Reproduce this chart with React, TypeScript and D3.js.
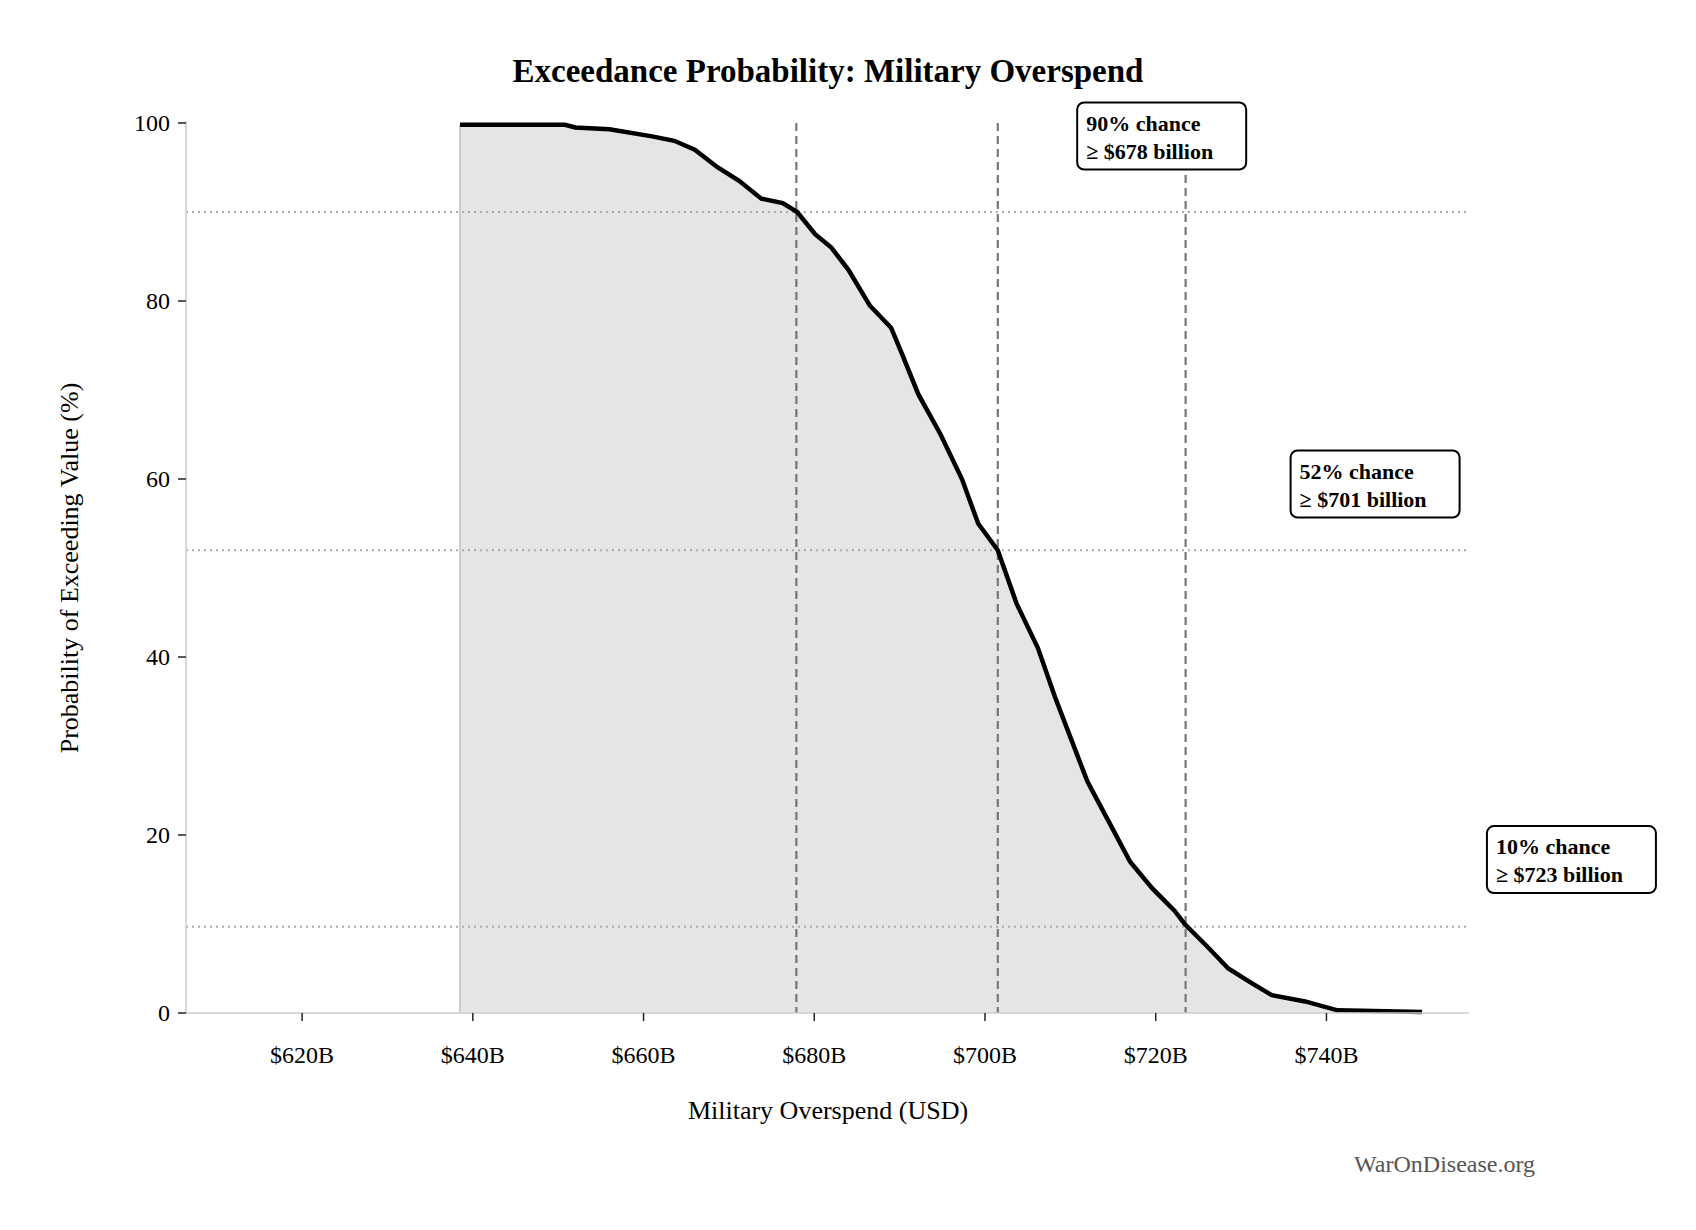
import React from "react";
import * as d3 from "d3";

const curveX = [638.5, 650.8, 652, 656, 661, 663.6, 666, 668.7, 671.2, 673.8, 676.3, 678, 680.1, 682, 684, 686.5, 689, 690.3, 692.2, 694.8, 697.3, 699.2, 701.5, 703.7, 706.2, 708.2, 710, 712, 714.5, 717, 719.6, 722.2, 723.4, 726, 728.5, 731, 733.6, 737.5, 741.3, 751.2];
const curveP = [99.8, 99.8, 99.5, 99.3, 98.5, 98, 97, 95, 93.5, 91.5, 91, 90, 87.5, 86, 83.5, 79.5, 77, 74, 69.5, 65, 60, 55, 52, 46, 41, 35.5, 31, 26, 21.5, 17, 14, 11.5, 10, 7.5, 5, 3.5, 2, 1.3, 0.3, 0.1];
const xTicks = [620, 640, 660, 680, 700, 720, 740];
const yTicks = [0, 20, 40, 60, 80, 100];
const markerX = [677.9, 701.5, 723.5];
const markerP = [90, 52, 9.7];
const annLines = [["90% chance", "≥ $678 billion"], ["52% chance", "≥ $701 billion"], ["10% chance", "≥ $723 billion"]];
const annX = [710.8, 735.8, 758.8];
const annY = [102.3, 63.2, 21.0];

const W = 1696, H = 1230;
const font = "'Liberation Serif', 'DejaVu Serif', serif";

export default function App() {
  const x = d3.scaleLinear().domain([606.4, 756.7]).range([186, 1469]);
  const y = d3.scaleLinear().domain([0, 100]).range([1013, 123]);
  const pts = curveX.map((v, i) => [v, curveP[i]] as [number, number]);
  const line = d3.line<[number, number]>().x((d) => x(d[0])).y((d) => y(d[1]));
  const area = d3.area<[number, number]>().x((d) => x(d[0])).y0(y(0)).y1((d) => y(d[1]));
  return (
    <svg width={W} height={H} style={{ display: "block", margin: -8 }} fontFamily={font}>
      <rect width={W} height={H} fill="#fff" />
      <text x={828} y={82} textAnchor="middle" fontSize={33} fontWeight="bold">Exceedance Probability: Military Overspend</text>
      <path d={area(pts)!} fill="#e5e5e5" />
      <line x1={x(curveX[0])} x2={x(curveX[0])} y1={y(0)} y2={y(curveP[0])} stroke="#ccc" strokeWidth={2} />
      {markerP.map((p, i) => (
        <line key={"h" + i} x1={186} x2={1469} y1={y(p)} y2={y(p)} stroke="#aaa" strokeWidth={2} strokeDasharray="2,4" />
      ))}
      {markerX.map((v, i) => (
        <line key={"v" + i} x1={x(v)} x2={x(v)} y1={y(100)} y2={y(0)} stroke="#777" strokeWidth={2.2} strokeDasharray="8,5" />
      ))}
      <path d={line(pts)!} fill="none" stroke="#000" strokeWidth={4.5} />
      <line x1={186} x2={186} y1={y(0)} y2={y(100) - 2} stroke="#ccc" strokeWidth={1.5} />
      <line x1={186} x2={1469} y1={y(0)} y2={y(0)} stroke="#ccc" strokeWidth={1.5} />
      {yTicks.map((t) => (
        <g key={t}>
          <line x1={178} x2={186} y1={y(t)} y2={y(t)} stroke="#222" strokeWidth={1.5} />
          <text x={170} y={y(t) + 8} textAnchor="end" fontSize={24}>{t}</text>
        </g>
      ))}
      {xTicks.map((t) => (
        <g key={t}>
          <line x1={x(t)} x2={x(t)} y1={y(0)} y2={y(0) + 8} stroke="#222" strokeWidth={1.5} />
          <text x={x(t)} y={1063} textAnchor="middle" fontSize={24}>${t}B</text>
        </g>
      ))}
      <text x={828} y={1119} textAnchor="middle" fontSize={26}>Military Overspend (USD)</text>
      <text transform={`translate(78,568) rotate(-90)`} textAnchor="middle" fontSize={26}>Probability of Exceeding Value (%)</text>
      <text x={1535} y={1172} textAnchor="end" fontSize={24} fill="#555">WarOnDisease.org</text>
      {annLines.map((ls, i) => (
        <g key={"a" + i} transform={`translate(${x(annX[i])},${y(annY[i])})`}>
          <rect width={169} height={67} rx={7} fill="#fff" stroke="#000" strokeWidth={2} />
          <text x={9} y={28} fontSize={22} fontWeight="bold">{ls[0]}</text>
          <text x={9} y={56} fontSize={22} fontWeight="bold">{ls[1]}</text>
        </g>
      ))}
    </svg>
  );
}
